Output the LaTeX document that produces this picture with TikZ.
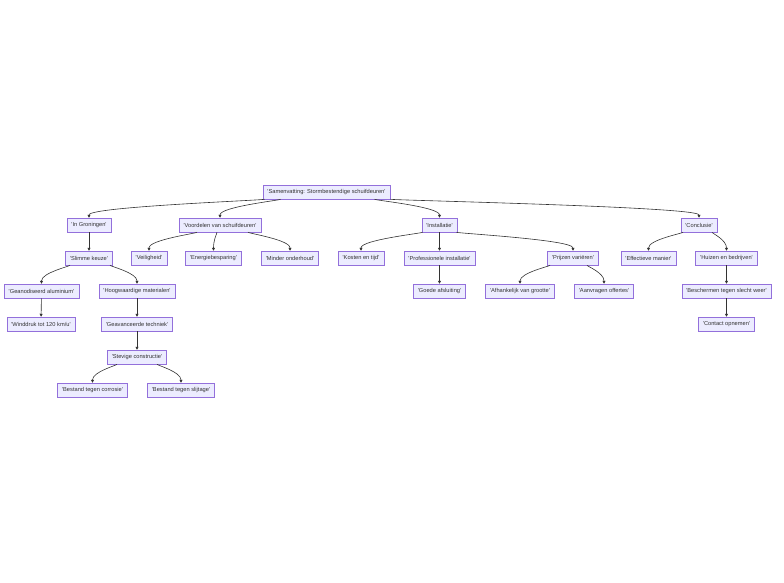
\documentclass[tikz,border=0pt]{standalone}
\usepackage{fontspec}
\setmainfont{Liberation Sans}
\usetikzlibrary{arrows.meta}
\definecolor{boxfill}{RGB}{236,236,255}
\definecolor{boxline}{RGB}{147,112,219}
\definecolor{edgeline}{RGB}{51,51,51}
\newcommand{\qt}[1]{\textquotesingle#1\textquotesingle}
\newcommand{\curvedge}[3]{\draw[edge] ([xshift=#3pt]#1.south) .. controls +(0,1) and +(0,-11) .. (#2.north);}
\tikzset{
	box/.style={draw=boxline,fill=boxfill,line width=0.5pt,text=edgeline,
		font=\fontsize{5.7}{6}\selectfont,minimum height=14pt,inner xsep=4.5pt,inner ysep=0pt},
	edge/.style={draw=edgeline,line width=0.6pt,-{Triangle[length=3pt,width=3pt]}}
}
\begin{document}
\begin{tikzpicture}[x=1pt,y=-1pt]
		\useasboundingbox (0,0) rectangle (784,582);
		% levels
		\node[box] (root) at (326.5,192) {\qt{Samenvatting: Stormbestendige schuifdeuren}};
		\node[box] (ing) at (89,225) {\qt{In Groningen}};
		\node[box] (voor) at (220,225) {\qt{Voordelen van schuifdeuren}};
		\node[box] (inst) at (439.5,225) {\qt{Installatie}};
		\node[box] (conc) at (699,225) {\qt{Conclusie}};
		\node[box] (slim) at (89,258) {\qt{Slimme keuze}};
		\node[box] (veil) at (149,258) {\qt{Veiligheid}};
		\node[box] (ener) at (213.5,258) {\qt{Energiebesparing}};
		\node[box] (mind) at (290,258) {\qt{Minder onderhoud}};
		\node[box] (kost) at (361,258) {\qt{Kosten en tijd}};
		\node[box] (prof) at (439.5,258) {\qt{Professionele installatie}};
		\node[box] (prij) at (573,258) {\qt{Prijzen variëren}};
		\node[box] (effe) at (648.5,258) {\qt{Effectieve manier}};
		\node[box] (huiz) at (726.5,258) {\qt{Huizen en bedrijven}};
		\node[box] (gean) at (41.5,291) {\qt{Geanodiseerd aluminium}};
		\node[box] (hoog) at (137,291) {\qt{Hoogwaardige materialen}};
		\node[box] (goed) at (439.5,291) {\qt{Goede afsluiting}};
		\node[box] (afha) at (520,291) {\qt{Afhankelijk van grootte}};
		\node[box] (aanv) at (604,291) {\qt{Aanvragen offertes}};
		\node[box] (besc) at (726.5,291) {\qt{Beschermen tegen slecht weer}};
		\node[box] (wind) at (41,324) {\qt{Winddruk tot 120 km/u}};
		\node[box] (geav) at (137,324) {\qt{Geavanceerde techniek}};
		\node[box] (cont) at (726.5,324) {\qt{Contact opnemen}};
		\node[box] (stev) at (137,357) {\qt{Stevige constructie}};
		\node[box] (corr) at (92.5,390) {\qt{Bestand tegen corrosie}};
		\node[box] (slij) at (181,390) {\qt{Bestand tegen slijtage}};
		% curved links
		\curvedge{root}{ing}{-62}
		\curvedge{root}{voor}{-46}
		\curvedge{root}{inst}{48}
		\curvedge{root}{conc}{64}
		\curvedge{voor}{veil}{-23}
		\curvedge{voor}{ener}{-3}
		\curvedge{voor}{mind}{28}
		\curvedge{inst}{kost}{-17}
		\curvedge{inst}{prij}{17}
		\curvedge{conc}{effe}{-16}
		\curvedge{conc}{huiz}{13}
		\curvedge{slim}{gean}{-19}
		\curvedge{slim}{hoog}{21}
		\curvedge{prij}{afha}{-23}
		\curvedge{prij}{aanv}{14}
		\curvedge{stev}{corr}{-20}
		\curvedge{stev}{slij}{20}
		% straight links
		\draw[edge] (ing) -- (slim);
		\draw[edge] (inst) -- (prof);
		\draw[edge] (prof) -- (goed);
		\draw[edge] (huiz) -- (besc);
		\draw[edge] (besc) -- (cont);
		\draw[edge] (gean) -- (wind);
		\draw[edge] (hoog) -- (geav);
		\draw[edge] (geav) -- (stev);
	\end{tikzpicture}
\end{document}
